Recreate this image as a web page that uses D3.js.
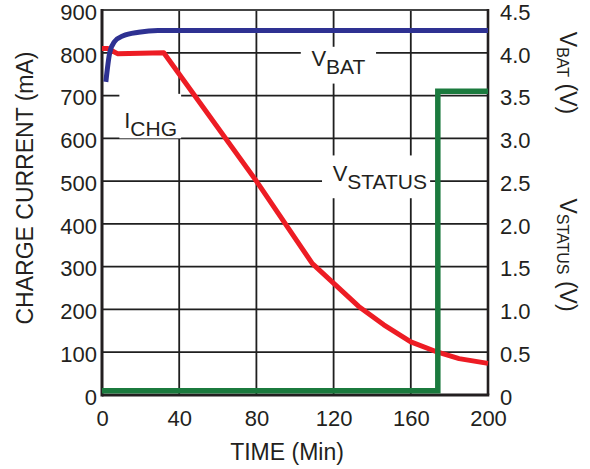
<!DOCTYPE html>
<html>
<head>
<meta charset="utf-8">
<script src="https://cdn.jsdelivr.net/npm/d3@7"></script>
<style>
  body { margin: 0; background: #fff; }
  svg text { font-family: "Liberation Sans", Arial, sans-serif; fill: #231f20; }
</style>
</head>
<body>
<svg width="590" height="469"></svg>
<script>

// tick values
var timeTicks = [0, 40, 80, 120, 160, 200];
var currentTicks = [0, 100, 200, 300, 400, 500, 600, 700, 800, 900];
var voltTicks = [0, 0.5, 1.0, 1.5, 2.0, 2.5, 3.0, 3.5, 4.0, 4.5];

// I_CHG (mA) vs time (min)
var chgTime = [0, 3, 8, 32, 80, 109, 133, 146, 160, 174, 185, 200];
var chgCurrent = [810, 810, 798, 800, 500, 307, 207, 164, 124, 100, 85, 74];

// V_BAT (V) vs time (min)
var batTime = [2, 4, 6.5, 11, 19, 29, 200];
var batVolt = [3.66, 4.0, 4.13, 4.2, 4.24, 4.26, 4.26];

// V_STATUS (V) vs time (min), step
var statusTime = [0, 174, 200];
var statusVolt = [0.05, 3.55, 3.55];

// plot edges (window.top is taken, so no "top" here)
var pLeft = 102, pRight = 488, pTop = 10, pBottom = 395;

function draw() {
  var svg = d3.select('svg');

  var x = d3.scaleLinear().domain([0, 200]).range([pLeft, pRight]);
  var yI = d3.scaleLinear().domain([0, 900]).range([pBottom, pTop]);
  var yV = d3.scaleLinear().domain([0, 4.5]).range([pBottom, pTop]);

  // grid
  var grid = svg.append('g').attr('stroke', '#1f1f1f').attr('stroke-width', 1.8);
  grid.selectAll('line.v')
      .data(timeTicks.slice(1, -1))
      .enter().append('line')
        .attr('x1', function(d){return x(d)})
        .attr('x2', function(d){return x(d)})
        .attr('y1', pTop).attr('y2', pBottom);
  grid.selectAll('line.h')
      .data(currentTicks.slice(1, -1))
      .enter().append('line')
        .attr('x1', pLeft).attr('x2', pRight)
        .attr('y1', function(d){return yI(d)})
        .attr('y2', function(d){return yI(d)});

  // white boxes behind the curve labels
  var boxes = [
    {t0: 103, t1: 142, v0: 4.07, v1: 3.64},
    {t0: 9, t1: 41, v0: 3.52, v1: 3.0},
    {t0: 114, t1: 170, v0: 2.8, v1: 2.3}
  ];
  svg.append('g').selectAll('rect')
     .data(boxes)
     .enter().append('rect')
       .attr('x', function(d){return x(d.t0)})
       .attr('width', function(d){return x(d.t1) - x(d.t0)})
       .attr('y', function(d){return yV(d.v0)})
       .attr('height', function(d){return yV(d.v1) - yV(d.v0)})
       .attr('fill', '#fff');

  // frame
  var frame = svg.append('g').attr('stroke', '#231f20');
  frame.append('line').attr('x1', pLeft).attr('x2', pRight).attr('y1', pTop).attr('y2', pTop).attr('stroke-width', 2).attr('stroke', '#444');
  frame.append('line').attr('x1', pRight).attr('x2', pRight).attr('y1', pTop - 1).attr('y2', pBottom).attr('stroke-width', 2.6);
  frame.append('line').attr('x1', pLeft).attr('x2', pLeft).attr('y1', pTop - 1).attr('y2', pBottom + 1.5).attr('stroke-width', 3);
  frame.append('line').attr('x1', pLeft).attr('x2', pRight + 1.3).attr('y1', pBottom).attr('y2', pBottom).attr('stroke-width', 3);

  // curves
  var chg = chgTime.map(function(t, i){return [t, chgCurrent[i]]});
  var bat = batTime.map(function(t, i){return [t, batVolt[i]]});
  var sts = statusTime.map(function(t, i){return [t, statusVolt[i]]});

  svg.append('path')
     .datum(chg)
     .attr('d', d3.line().x(function(d){return x(d[0])}).y(function(d){return yI(d[1])}))
     .attr('fill', 'none').attr('stroke', '#ed1c24').attr('stroke-width', 5)
     .attr('stroke-linejoin', 'round');

  svg.append('path')
     .datum(bat)
     .attr('d', d3.line().x(function(d){return x(d[0])}).y(function(d){return yV(d[1])}).curve(d3.curveMonotoneX))
     .attr('fill', 'none').attr('stroke', '#2e3192').attr('stroke-width', 5);

  svg.append('path')
     .datum(sts)
     .attr('d', d3.line().x(function(d){return x(d[0])}).y(function(d){return yV(d[1])}).curve(d3.curveStepAfter))
     .attr('fill', 'none').attr('stroke', '#1b7a3e').attr('stroke-width', 5.5);

  // axes (labels only)
  var fs = 22;
  var axL = svg.append('g').attr('transform', 'translate(' + pLeft + ',0)')
     .call(d3.axisLeft(yI).tickValues(currentTicks).tickSize(0).tickPadding(5));
  var axR = svg.append('g').attr('transform', 'translate(' + pRight + ',0)')
     .call(d3.axisRight(yV).tickValues(voltTicks).tickSize(0).tickPadding(12)
       .tickFormat(function(d){return d === 0 ? '0' : d3.format('.1f')(d)}));
  var axB = svg.append('g').attr('transform', 'translate(0,' + pBottom + ')')
     .call(d3.axisBottom(x).tickValues(timeTicks).tickSize(0).tickPadding(15));
  [axL, axR, axB].forEach(function(g){
    g.select('.domain').remove();
    g.attr('font-family', null).attr('font-size', fs);
    g.selectAll('text').attr('fill', '#231f20');
  });
  axL.selectAll('text').attr('dy', '0.42em');
  axR.selectAll('text').attr('dy', '0.42em');

  // axis titles
  svg.append('text')
     .attr('transform', 'translate(33,188) rotate(-90)')
     .attr('text-anchor', 'middle')
     .attr('font-size', 23)
     .text('CHARGE CURRENT (mA)');

  svg.append('text')
     .attr('x', 287).attr('y', 460)
     .attr('text-anchor', 'middle')
     .attr('font-size', 23)
     .text('TIME (Min)');

  function subTitle(tx, ty, main, sub, rest) {
    var t = svg.append('text')
       .attr('transform', 'translate(' + tx + ',' + ty + ') rotate(90)')
       .attr('text-anchor', 'middle')
       .attr('font-size', 23);
    t.append('tspan').text(main);
    t.append('tspan').attr('font-size', 16).attr('dy', 3).text(sub);
    t.append('tspan').attr('dy', -3).text(rest);
  }
  subTitle(560, 73, 'V', 'BAT', ' (V)');
  subTitle(560, 255, 'V', 'STATUS', ' (V)');

  // curve labels
  function curveLabel(t, v, main, sub, fsz) {
    var lab = svg.append('text')
       .attr('x', x(t)).attr('y', yV(v))
       .attr('font-size', fsz);
    lab.append('tspan').text(main);
    lab.append('tspan').attr('font-size', fsz - 1).attr('dy', 8).text(sub);
  }
  curveLabel(108.5, 3.85, 'V', 'BAT', 22);
  curveLabel(11.5, 3.12, 'I', 'CHG', 22);
  curveLabel(119.5, 2.5, 'V', 'STATUS', 22);
}

window.onload = draw;
</script>
</body>
</html>
